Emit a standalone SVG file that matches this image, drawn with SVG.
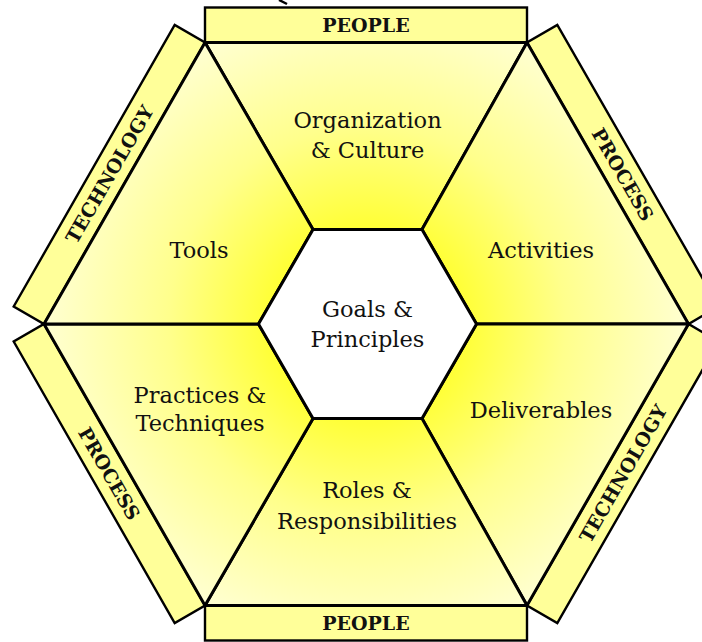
<svg xmlns="http://www.w3.org/2000/svg" width="702" height="642" viewBox="0 0 702 642">
  <style>
    .seg { fill: url(#yel); stroke: #000; stroke-width: 3; stroke-linejoin: miter; }
    .band { fill: #ffff99; stroke: #000; stroke-width: 2.4; stroke-linejoin: miter; }
    .core { fill: #ffffff; stroke: #000; stroke-width: 3; }
    .lbl { font-family: "DejaVu Serif", "Liberation Serif", serif; font-size: 22.5px; fill: #111; text-anchor: middle; }
    .blbl { font-family: "DejaVu Serif", "Liberation Serif", serif; font-size: 19px; font-weight: bold; fill: #111; text-anchor: middle; dominant-baseline: central; }
  </style>
  <defs>
    <radialGradient id="yel" gradientUnits="userSpaceOnUse" cx="367" cy="324" r="330">
      <stop offset="0.3" stop-color="#ffff38"/>
      <stop offset="0.6" stop-color="#ffff8c"/>
      <stop offset="1" stop-color="#ffffd6"/>
    </radialGradient>
  </defs>
  <rect width="702" height="642" fill="#ffffff"/>
  <path d="M279,0 L287,4" stroke="#000" stroke-width="2.5" fill="none"/>

  <g id="band-people-top">
    <rect class="band" x="205" y="7.5" width="322" height="35"/>
    <text class="blbl" x="366" y="25">PEOPLE</text>
  </g>
  <g id="band-people-bottom">
    <rect class="band" x="205" y="605.5" width="322" height="35"/>
    <text class="blbl" x="366" y="623">PEOPLE</text>
  </g>
  <g id="band-technology-left">
    <polygon class="band" points="205,42.5 44,324 13.7,306.5 174.7,25"/>
    <text class="blbl" transform="translate(109.3,174.3) rotate(-60)">TECHNOLOGY</text>
  </g>
  <g id="band-process-right">
    <polygon class="band" points="527,42.5 688.5,324 718.8,306.5 557.3,25"/>
    <text class="blbl" transform="translate(622.9,174.3) rotate(60)">PROCESS</text>
  </g>
  <g id="band-process-left">
    <polygon class="band" points="44,324 205,605.5 174.7,623 13.7,341.5"/>
    <text class="blbl" transform="translate(109.3,473.5) rotate(60)">PROCESS</text>
  </g>
  <g id="band-technology-right">
    <polygon class="band" points="688.5,324 527,605.5 557.3,623 718.8,341.5"/>
    <text class="blbl" transform="translate(622.9,473.5) rotate(-60)">TECHNOLOGY</text>
  </g>

  <g id="organization-culture">
    <polygon class="seg" points="205,42.5 527,42.5 422,229.6 313,229.6"/>
    <text class="lbl" x="367.5" y="128">Organization</text>
    <text class="lbl" x="367.5" y="158">&amp; Culture</text>
  </g>
  <g id="activities">
    <polygon class="seg" points="527,42.5 688.5,324 476.5,324 422,229.6"/>
    <text class="lbl" x="541" y="258">Activities</text>
  </g>
  <g id="deliverables">
    <polygon class="seg" points="688.5,324 527,605.5 422,418.4 476.5,324"/>
    <text class="lbl" x="541" y="418">Deliverables</text>
  </g>
  <g id="roles-responsibilities">
    <polygon class="seg" points="527,605.5 205,605.5 313,418.4 422,418.4"/>
    <text class="lbl" x="367" y="498">Roles &amp;</text>
    <text class="lbl" x="367" y="529">Responsibilities</text>
  </g>
  <g id="practices-techniques">
    <polygon class="seg" points="205,605.5 44,324 258.5,324 313,418.4"/>
    <text class="lbl" x="200" y="403">Practices &amp;</text>
    <text class="lbl" x="200" y="431">Techniques</text>
  </g>
  <g id="tools">
    <polygon class="seg" points="44,324 205,42.5 313,229.6 258.5,324"/>
    <text class="lbl" x="199" y="258">Tools</text>
  </g>
  <g id="goals-principles">
    <polygon class="core" points="313,229.6 422,229.6 476.5,324 422,418.4 313,418.4 258.5,324"/>
    <text class="lbl" x="367.5" y="317">Goals &amp;</text>
    <text class="lbl" x="367.5" y="347">Principles</text>
  </g>
  <g id="connectors"/>
</svg>
